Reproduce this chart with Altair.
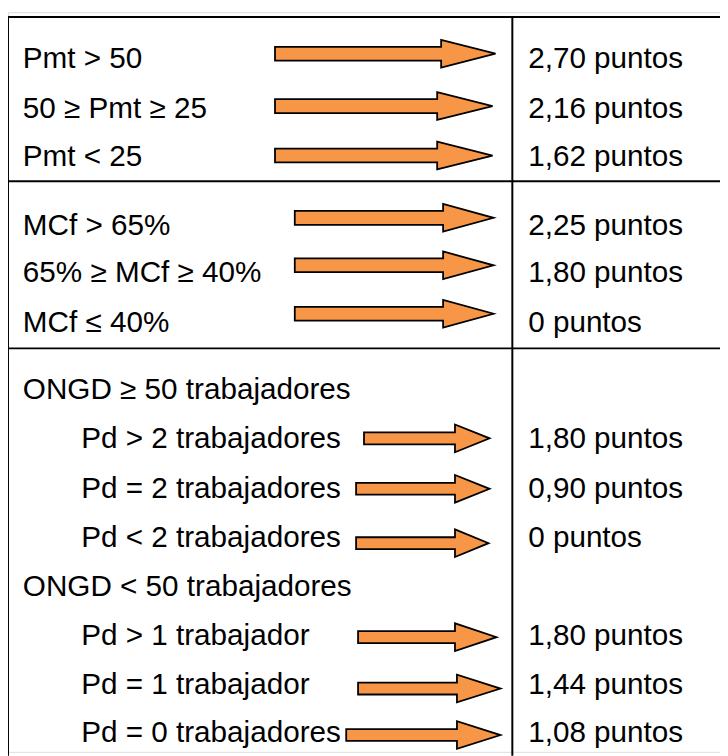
import altair as alt
import pandas as pd

# ---- content ----
left_labels = ["Pmt > 50", "50 ≥ Pmt ≥ 25", "Pmt < 25",
               "MCf > 65%", "65% ≥ MCf ≥ 40%", "MCf ≤ 40%",
               "ONGD ≥ 50 trabajadores", "Pd > 2 trabajadores", "Pd = 2 trabajadores",
               "Pd < 2 trabajadores", "ONGD < 50 trabajadores", "Pd > 1 trabajador",
               "Pd = 1 trabajador", "Pd = 0 trabajadores"]
left_indent = [0, 0, 0, 0, 0, 0, 0, 1, 1, 1, 0, 1, 1, 1]
row_center = [54, 105, 154, 223, 271, 321, 389, 439, 489, 539, 588, 638, 687, 736]

right_labels = ["2,70 puntos", "2,16 puntos", "1,62 puntos",
                "2,25 puntos", "1,80 puntos", "0 puntos",
                "1,80 puntos", "0,90 puntos", "0 puntos",
                "1,80 puntos", "1,44 puntos", "1,08 puntos"]
right_rows = [0, 1, 2, 3, 4, 5, 7, 8, 9, 11, 12, 13]

# ---- arrow layout (pixel units of the page) ----
arrow_tail = [278, 278, 278, 298, 298, 298, 368, 360, 360, 362, 362, 350]
arrow_base = [446, 442, 442, 448, 448, 448, 460, 460, 460, 460, 462, 462]
arrow_tip = [501, 498, 498, 499, 499, 499, 495, 495, 494, 502, 506, 506]
arrow_center = [50, 103, 153, 216, 264, 313, 439, 490, 545, 640, 692, 739]
arrow_body_half = [7, 7, 7, 7, 7, 7, 6, 6, 6, 6, 6, 6]
arrow_head_half = [14, 14, 14, 14, 14, 14, 14, 14, 14, 14, 14, 14]

# ---- frame lines ----
frame_left, frame_right, frame_top, frame_bottom = 8, 728, 13, 760
col_divider = 518
row_dividers = [179, 348]

W, H = 720, 748
xs = alt.Scale(domain=[8, 728], nice=False, zero=False)
ys = alt.Scale(domain=[8, 756], nice=False, zero=False, reverse=True)

# arrows as areas (points listed in drawing order along x)
pts = []
for i in range(len(arrow_tail)):
    c, h, hh = arrow_center[i], arrow_body_half[i], arrow_head_half[i]
    pts += [
        dict(a=i, x=arrow_tail[i], y=c - h, y2=c + h),
        dict(a=i, x=arrow_base[i], y=c - h, y2=c + h),
        dict(a=i, x=arrow_base[i], y=c - hh, y2=c + hh),
        dict(a=i, x=arrow_tip[i], y=c, y2=c),
    ]
arrows = alt.Chart(pd.DataFrame(pts)).mark_area(
    fill="#F79646", stroke="black", strokeWidth=1.8, interpolate="linear",
    fillOpacity=1, strokeJoin="miter", orient="vertical"
).encode(
    x=alt.X("x:Q", scale=xs, axis=None),
    y=alt.Y("y:Q", scale=ys, axis=None, stack=None),
    y2="y2:Q",
    detail="a:N",
)

# lines
hlines = pd.DataFrame({"y": [frame_top] + row_dividers,
                       "x": [frame_left] * 3, "x2": [frame_right] * 3})
vlines = pd.DataFrame({"x": [frame_left, col_divider],
                       "y": [frame_top] * 2, "y2": [frame_bottom] * 2})
hrule = alt.Chart(hlines).mark_rule(color="black", strokeWidth=2).encode(
    x=alt.X("x:Q", scale=xs, axis=None), x2="x2:Q",
    y=alt.Y("y:Q", scale=ys, axis=None))
vrule = alt.Chart(vlines).mark_rule(color="black", strokeWidth=2).encode(
    x=alt.X("x:Q", scale=xs, axis=None),
    y=alt.Y("y:Q", scale=ys, axis=None), y2="y2:Q")

# texts
ldf = pd.DataFrame({
    "t": left_labels,
    "x": [23 + 59 * k for k in left_indent],
    "y": [c + 10 for c in row_center],
})
rdf = pd.DataFrame({
    "t": right_labels,
    "x": [534] * len(right_labels),
    "y": [row_center[r] + 10 for r in right_rows],
})
tstyle = dict(align="left", baseline="alphabetic", font="Liberation Sans",
              fontSize=30, color="black")
ltext = alt.Chart(ldf).mark_text(**tstyle).encode(
    x=alt.X("x:Q", scale=xs, axis=None), y=alt.Y("y:Q", scale=ys, axis=None), text="t:N")
rtext = alt.Chart(rdf).mark_text(**tstyle).encode(
    x=alt.X("x:Q", scale=xs, axis=None), y=alt.Y("y:Q", scale=ys, axis=None), text="t:N")

chart = alt.layer(hrule, vrule, arrows, ltext, rtext).properties(
    width=W, height=H, autosize=alt.AutoSizeParams(type="none"), padding=0
).configure_view(stroke=None).configure(background="white")

chart.save("out.html", embed_options={"renderer": "svg", "actions": False})
